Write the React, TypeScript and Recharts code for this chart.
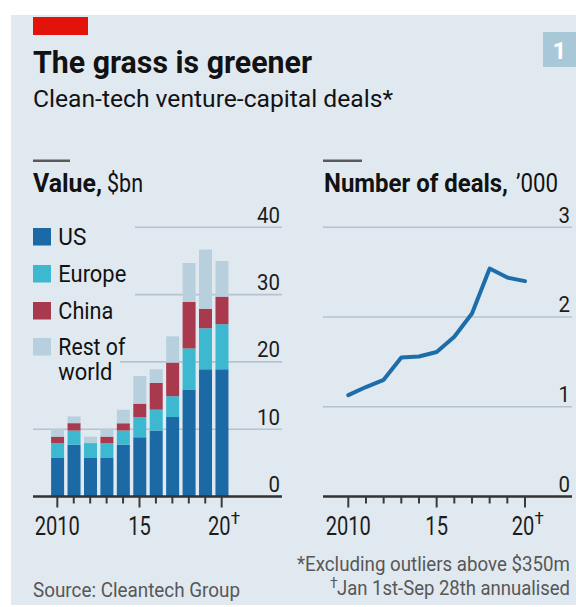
import React from 'react';
import { BarChart, Bar, LineChart, Line, XAxis, YAxis, CartesianGrid } from 'recharts';

// ---- data ----
const years = [2010, 2011, 2012, 2013, 2014, 2015, 2016, 2017, 2018, 2019, 2020];
const usValues = [5.8, 7.7, 5.8, 5.8, 7.7, 8.8, 9.8, 11.8, 15.9, 18.9, 18.9];
const europeValues = [2.1, 2.1, 2.0, 2.1, 2.1, 3.0, 3.1, 3.1, 6.1, 6.1, 6.7];
const chinaValues = [1.0, 1.1, 0.1, 1.0, 1.1, 2.0, 4.0, 5.0, 6.9, 2.9, 4.1];
const restValues = [1.1, 1.0, 1.0, 1.1, 2.0, 4.1, 2.0, 3.9, 5.8, 8.8, 5.3];
const dealsValues = [1.13, 1.22, 1.3, 1.55, 1.56, 1.61, 1.78, 2.04, 2.54, 2.44, 2.4];
const valueTicks = [0, 10, 20, 30, 40];
const dealsTicks = [0, 1, 2, 3];
const yearLabels: Record<number, string> = { 2010: '2010', 2015: '15', 2020: '20' };
const seriesKeys = ['us', 'europe', 'china', 'rest'];
const seriesNames = ['US', 'Europe', 'China', 'Rest of world'];
const seriesColors = ['#1b69a5', '#3cb9d1', '#a93a4e', '#b8d0de'];

const valueData = years.map((y, i) => ({
  year: y,
  us: usValues[i],
  europe: europeValues[i],
  china: chinaValues[i],
  rest: restValues[i],
}));
const dealsData = years.map((y, i) => ({ year: y, deals: dealsValues[i] }));

const BG = '#e1e9f0';
const FONT = 'Roboto';
const GRID = '#b7c2cb';

const makeXTick = (labelDx: number, daggerDx: number) => (props: any) => {
  const { x, y, payload } = props;
  const v = payload.value as number;
  const major = v % 5 === 0;
  const label = yearLabels[v];
  const dx = v === 2020 ? labelDx : 0;
  return (
    <g transform={`translate(${x},${y})`}>
      <line x1={0} x2={0} y1={0} y2={major ? 11 : 7} stroke="#3a3a3a" strokeWidth={2} />
      {label && (
        <text
          x={dx}
          y={38.5}
          textAnchor="middle"
          fontFamily={FONT}
          fontSize={25}
          fill="#1c1c1c"
          textLength={label.length * 11.3}
          lengthAdjust="spacingAndGlyphs"
        >
          {label}
        </text>
      )}
      {v === 2020 && (
        <text x={daggerDx} y={27} fontFamily={FONT} fontSize={17} fill="#1c1c1c">
          †
        </text>
      )}
    </g>
  );
};

const YTick = (props: any) => {
  const { x, y, payload } = props;
  const label = String(payload.value);
  return (
    <text
      x={x - 2}
      y={y - 4.6}
      textAnchor="end"
      fontFamily={FONT}
      fontSize={22}
      fill="#1c1c1c"
      textLength={label.length * 11.5}
      lengthAdjust="spacingAndGlyphs"
    >
      {label}
    </text>
  );
};

const T = (p: any) => {
  const { x, y, w, size, weight, color, anchor, children } = p;
  return (
    <text
      x={x}
      y={y}
      fontFamily={FONT}
      fontSize={size}
      fontWeight={weight || 400}
      fill={color || '#121212'}
      textAnchor={anchor || 'start'}
      textLength={w}
      lengthAdjust="spacingAndGlyphs"
    >
      {children}
    </text>
  );
};

const legendRows = [
  { top: 228, lines: ['US'], widths: [28] },
  { top: 265, lines: ['Europe'], widths: [68] },
  { top: 302, lines: ['China'], widths: [55] },
  { top: 338, lines: ['Rest of', 'world'], widths: [67, 54] },
];

export default function App() {
  return (
    <div style={{ position: 'absolute', left: 0, top: 0, width: 576, height: 607, background: '#ffffff', overflow: 'hidden' }}>
      <div style={{ position: 'absolute', left: 11, top: 15, width: 565, height: 590, background: BG }} />

      <div style={{ position: 'absolute', left: 0, top: 0 }}>
        <BarChart width={300} height={607} data={valueData} margin={{ top: 227.3, right: 17, bottom: 70.5, left: 33 }}>
          <CartesianGrid vertical={false} stroke={GRID} strokeWidth={1.6} />
          <XAxis
            dataKey="year"
            type="category"
            scale="band"
            height={40}
            padding={{ left: 16.1, right: 52.1 }}
            interval={0}
            tickSize={0}
            tickMargin={0}
            tickLine={false}
            axisLine={{ stroke: '#333333', strokeWidth: 2.5 }}
            tick={makeXTick(-2.5, 9)}
          />
          <YAxis
            orientation="right"
            width={1}
            domain={[0, 40]}
            ticks={valueTicks}
            interval={0}
            tickSize={0}
            tickMargin={0}
            axisLine={false}
            tickLine={false}
            tick={YTick}
          />
          {seriesKeys.map((k, i) => (
            <Bar key={k} dataKey={k} name={seriesNames[i]} stackId="v" fill={seriesColors[i]} barSize={13} isAnimationActive={false} />
          ))}
        </BarChart>
      </div>

      <div style={{ position: 'absolute', left: 290, top: 0 }}>
        <LineChart width={286} height={607} data={dealsData} margin={{ top: 227.3, right: 3, bottom: 70.5, left: 33 }}>
          <CartesianGrid vertical={false} stroke={GRID} strokeWidth={1.6} />
          <XAxis
            dataKey="year"
            type="category"
            scale="point"
            height={40}
            padding={{ left: 25.3, right: 47 }}
            interval={0}
            tickSize={0}
            tickMargin={0}
            tickLine={false}
            axisLine={{ stroke: '#333333', strokeWidth: 2.5 }}
            tick={makeXTick(-2, 9.5)}
          />
          <YAxis
            orientation="right"
            width={1}
            domain={[0, 3]}
            ticks={dealsTicks}
            interval={0}
            tickSize={0}
            tickMargin={0}
            axisLine={false}
            tickLine={false}
            tick={YTick}
          />
          <Line
            type="linear"
            dataKey="deals"
            stroke="#1d6da8"
            strokeWidth={4}
            dot={false}
            strokeLinejoin="round"
            strokeLinecap="round"
            isAnimationActive={false}
          />
        </LineChart>
      </div>

      <svg width={576} height={607} style={{ position: 'absolute', left: 0, top: 0, pointerEvents: 'none' }}>
        <rect x={33} y={17} width={55} height={18} fill="#e3120b" />
        <rect x={543} y={32} width={33} height={35} fill="#a9c8d7" />
        <text x={559.5} y={59.3} textAnchor="middle" fontFamily={FONT} fontWeight={700} fontSize={24} fill="#ffffff">
          1
        </text>

        <T x={33} y={72.7} w={279} size={32} weight={700}>The grass is greener</T>
        <T x={33} y={107} w={360} size={24}>Clean-tech venture-capital deals*</T>

        <line x1={33} x2={70} y1={160.7} y2={160.7} stroke="#5a5a5a" strokeWidth={2.5} />
        <T x={33} y={192.3} w={69} size={25} weight={700}>Value,</T>
        <T x={107} y={192.3} w={36} size={25}>$bn</T>

        <line x1={323} x2={362} y1={160.7} y2={160.7} stroke="#5a5a5a" strokeWidth={2.5} />
        <T x={324} y={192.3} w={184} size={25} weight={700}>Number of deals,</T>
        <T x={516} y={192.3} w={42} size={25}>’000</T>

        {/* legend background covering gridlines */}
        <rect x={31} y={220} width={104} height={138} fill={BG} />
        <rect x={31} y={358} width={89} height={28} fill={BG} />
        {legendRows.map((row, i) => (
          <g key={seriesKeys[i]}>
            <rect x={33} y={row.top} width={18} height={17.5} fill={seriesColors[i]} />
            {row.lines.map((ln, j) => (
              <T key={ln} x={58.3} y={row.top + 17 + j * 25} w={row.widths[j]} size={24}>
                {ln}
              </T>
            ))}
          </g>
        ))}

        <T x={297} y={570.7} w={273} size={21} color="#575757">*Excluding outliers above $350m</T>
        <text x={330} y={588} fontFamily={FONT} fontSize={14} fill="#575757">†</text>
        <T x={337} y={595} w={233} size={21} color="#575757">Jan 1st-Sep 28th annualised</T>
        <T x={33} y={596.7} w={207} size={21} color="#575757">Source: Cleantech Group</T>
      </svg>
    </div>
  );
}
